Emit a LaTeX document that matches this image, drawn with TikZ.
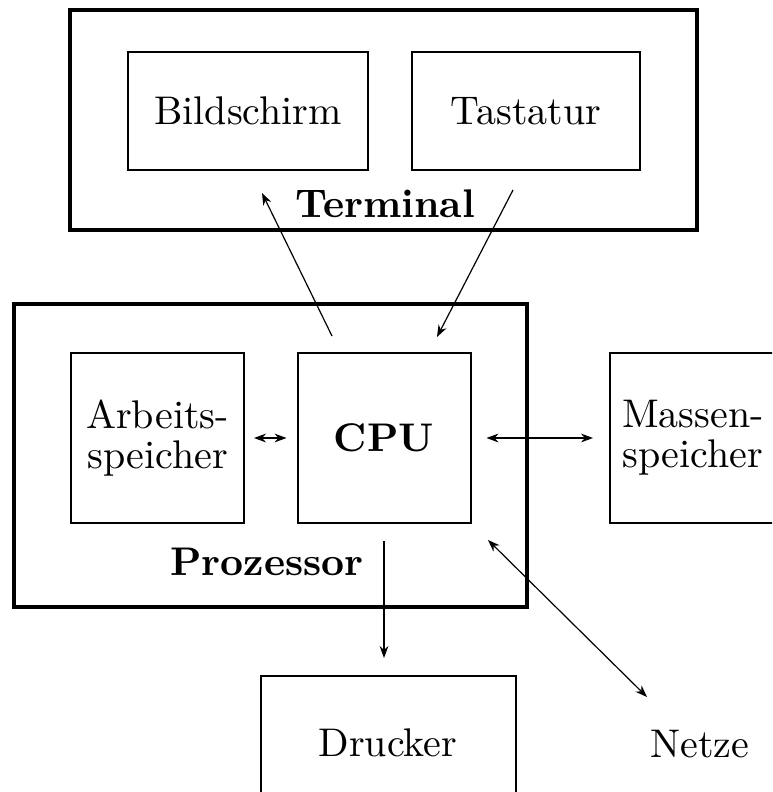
\documentclass[tikz,border=0pt]{standalone}
\usepackage{tikz}
\usetikzlibrary{arrows.meta}
\begin{document}
\begin{tikzpicture}[x=0.25pt, y=-0.25pt,
        outerbox/.style={draw, line width=0.8pt, inner sep=0pt},
        unitbox/.style={draw, line width=0.5pt, inner sep=0pt, align=center,
            font=\fontsize{10}{10}\selectfont},
        link/.style={line width=0.3pt, >={Stealth[length=3pt,width=2.2pt]}},
        boxtitle/.style={font=\bfseries, inner sep=0pt}]
        \clip (0,0) rectangle (772,792);
        % Terminal
        \node[outerbox, minimum width=156.75pt, minimum height=55pt] (term) at (383.5,120) {};
        \node[unitbox, minimum width=60pt, minimum height=29.5pt] (bild) at (248,111) {Bildschirm};
        \node[unitbox, minimum width=57pt, minimum height=29.5pt] (tast) at (526,111) {Tastatur};
        \node[boxtitle, anchor=base] (termlabel) at (385,217) {Terminal};
        % Prozessor
        \node[outerbox, minimum width=128.25pt, minimum height=75.75pt] (proz) at (270.5,455.5) {};
        \node[unitbox, minimum width=43.25pt, minimum height=42.5pt] (arb) at (157.5,438) {Arbeits-\\speicher};
        \node[unitbox, minimum width=43.25pt, minimum height=42.5pt, font=\bfseries] (cpu) at (384,438) {CPU};
        \node[boxtitle, anchor=base] (prozlabel) at (267,575) {Prozessor};
        % Peripherie
        \node[unitbox, minimum width=41.5pt, minimum height=42.5pt] (mass) at (693,438) {Massen-\\speicher};
        \node[unitbox, minimum width=63.75pt, minimum height=33.5pt] (druck) at (388,743) {Drucker};
        \node[anchor=base, inner sep=0pt] (netz) at (700,757) {Netze};
        % free ends of the connectors
        \coordinate (bildin) at (262,193);
        \coordinate (cpuout) at (332,336);
        \coordinate (tastout) at (513,190);
        \coordinate (cpuin) at (437,337);
        \coordinate (cpucorner) at (488,540);
        \coordinate (netzin) at (647,697);
        % connectors
        \draw[link, ->] (cpuout) -- (bildin);
        \draw[link, ->] (tastout) -- (cpuin);
        \draw[link, <->, shorten <=2.25pt, shorten >=2.5pt] (arb) -- (cpu);
        \draw[link, <->, shorten <=3.75pt, shorten >=4pt] (cpu) -- (mass);
        \draw[link, ->, shorten <=4.25pt, shorten >=4.25pt] (cpu.south) -- (cpu.south |- druck.north);
        \draw[link, <->] (cpucorner) -- (netzin);
\end{tikzpicture}
\end{document}
